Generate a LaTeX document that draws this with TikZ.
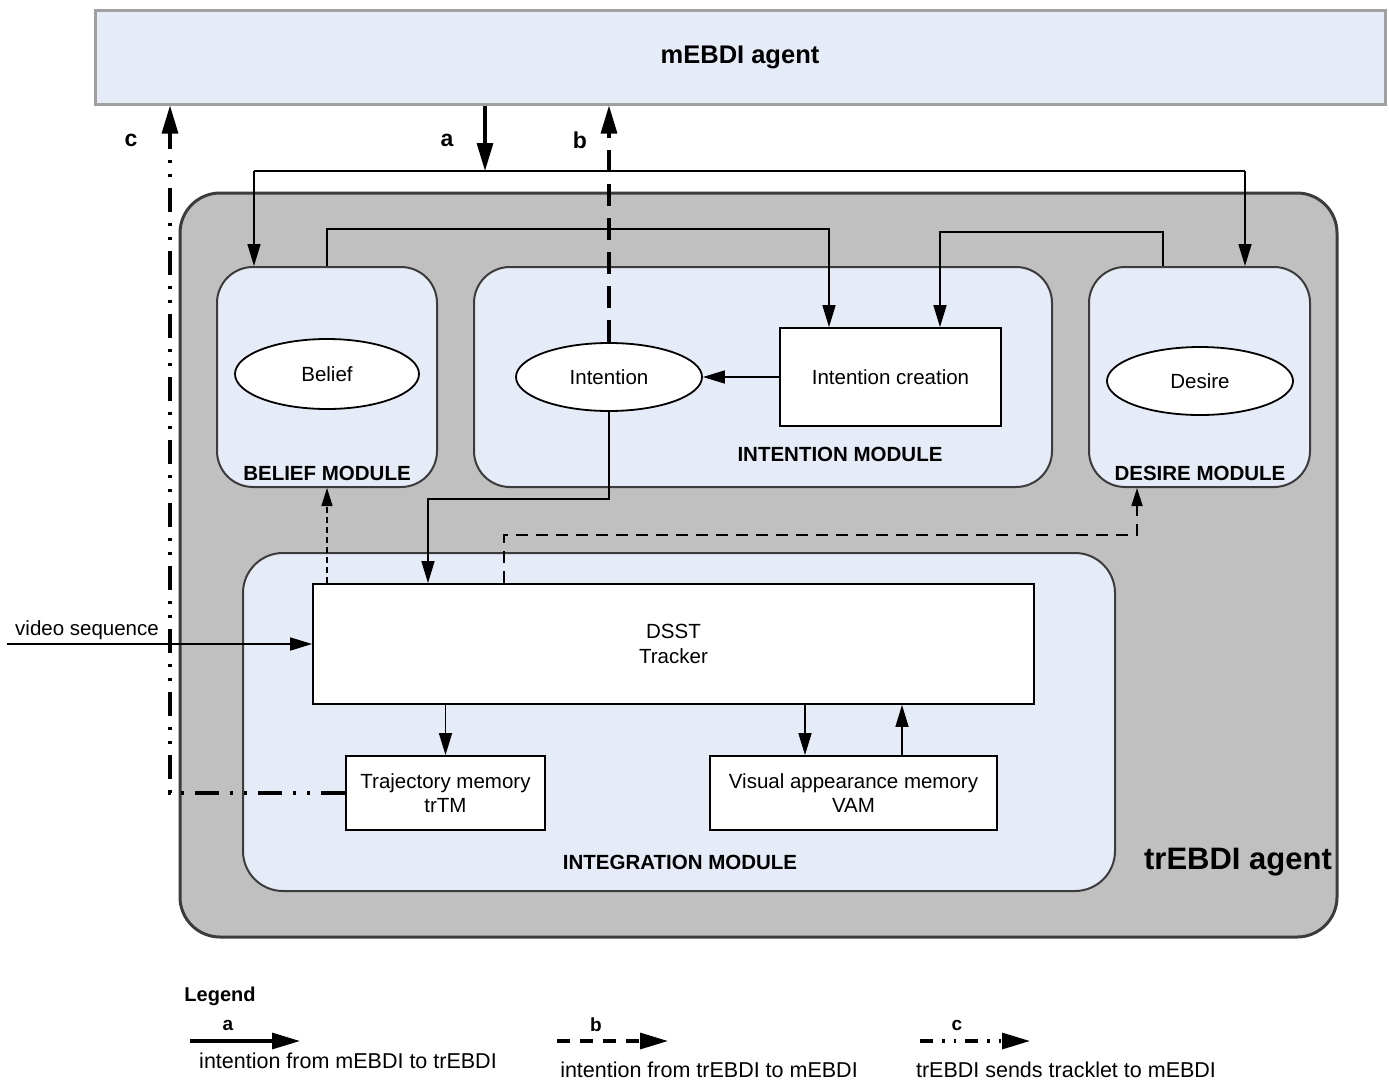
\documentclass[tikz,border=0pt]{standalone}
\usepackage{fontspec}
\setmainfont{Liberation Sans}
\usetikzlibrary{arrows.meta,shapes.geometric,calc}
\definecolor{lb}{HTML}{E6ECF7}
\definecolor{gr}{HTML}{C0C0C0}
\definecolor{modline}{HTML}{3C3C3C}
\definecolor{topline}{HTML}{A0A0A0}
\newcommand\myfs{\fontsize{20.5}{24.5}\selectfont}
\begin{document}
\begin{tikzpicture}[x=1pt,y=-1pt,
  modbox/.style={draw=modline,line width=2pt,fill=lb,rounded corners=36pt,inner sep=0},
  wbox/.style={draw=black,line width=1.8pt,fill=white,align=center,font=\myfs,inner sep=0},
  ell/.style={ellipse,draw=black,line width=1.8pt,fill=white,font=\myfs,inner sep=0},
  modlab/.style={font=\bfseries\myfs,inner sep=0},
  txt/.style={font=\myfs,inner sep=0},
  biglab/.style={font=\bfseries\fontsize{23}{27}\selectfont,inner sep=0},
  conn/.style={line width=1.6pt,draw=black},
  tip/.style={-{Triangle[length=22pt,width=13pt]}},
  smalltip/.style={-{Triangle[length=18pt,width=11pt]}},
  bigtip/.style={-{Triangle[length=28pt,width=16pt]}},
  aline/.style={line width=3.2pt,draw=black,bigtip},
  bline/.style={line width=3.2pt,draw=black,dash pattern=on 22pt off 12pt,bigtip},
  cline/.style={line width=3.2pt,draw=black,dash pattern=on 24pt off 11pt on 3pt off 11pt on 3pt off 11pt,bigtip},
  legtxt/.style={font=\fontsize{21.5}{25}\selectfont,inner sep=0}
]
\useasboundingbox (0,0) rectangle (1389,1082);

% outer agents
\node[draw=topline,line width=3pt,fill=lb,minimum width=1290pt,minimum height=94pt,inner sep=0] (mebdi) at (740,57) {};
\node[font=\bfseries\fontsize{25.5}{30}\selectfont,inner sep=0] (mlab) at (740,57) {mEBDI agent};
\node[draw=modline,line width=3pt,fill=gr,rounded corners=40pt,minimum width=1157pt,minimum height=744pt,inner sep=0] (trebdi) at (758.5,565) {};
\node[font=\bfseries\fontsize{31}{36}\selectfont,inner sep=0] (trlab) at (1238,862) {trEBDI agent};

% modules
\node[modbox,minimum width=220pt,minimum height=220pt] (bm) at (327,377) {};
\node[modbox,minimum width=578pt,minimum height=220pt] (im) at (763,377) {};
\node[modbox,minimum width=221pt,minimum height=220pt] (dm) at (1199.5,377) {};
\node[modbox,rounded corners=40pt,minimum width=872pt,minimum height=338pt] (ig) at (679,722) {};

\node[modlab] (bmlab) at (327,473) {BELIEF MODULE};
\node[modlab] (imlab) at (840,454) {INTENTION MODULE};
\node[modlab] (dmlab) at (1200,473) {DESIRE MODULE};
\node[modlab] (iglab) at (680,862) {INTEGRATION MODULE};

% inner elements
\node[ell,minimum width=184pt,minimum height=70pt] (bel) at (327,374) {Belief};
\node[ell,minimum width=186pt,minimum height=68pt] (int) at (609,377) {Intention};
\node[ell,minimum width=186pt,minimum height=68pt] (des) at (1200,381) {Desire};
\node[wbox,minimum width=221pt,minimum height=98pt] (ic) at (890.5,377) {Intention creation};
\node[wbox,minimum width=721pt,minimum height=120pt] (dsst) at (673.5,644) {DSST\\Tracker};
\node[wbox,minimum width=199pt,minimum height=74pt] (trtm) at (445.5,793) {Trajectory memory\\trTM};
\node[wbox,minimum width=287pt,minimum height=74pt] (vam) at (853.5,793) {Visual appearance memory\\VAM};

% connector a
\coordinate (aj) at (485,171);
\coordinate (al) at (254,171);
\coordinate (ar) at (1245,171);
\draw[aline] (mebdi.south -| aj) -- (aj);
\draw[conn] (al) -- (ar);
\draw[conn,tip] (al) -- (al |- bm.north);
\draw[conn,tip] (ar) -- (ar |- dm.north);

% connector b
\draw[bline] (int.north) -- (int.north |- mebdi.south);

% module links
\draw[conn,tip] (bm.north) -- ++(0,-37) -| ([xshift=-61.5]ic.north);
\draw[conn,tip] ([xshift=-36.5]dm.north) -- ++(0,-34) -| ([xshift=49.5]ic.north);
\draw[conn,tip] (ic.west) -- (int.east);
\draw[conn,tip] (int.south) -- ++(0,87) -| ([xshift=-245.5]dsst.north);
\draw[line width=1.1pt,dash pattern=on 6pt off 4pt,smalltip] (dsst.north -| bm.south) -- (bm.south);
\draw[line width=1.8pt,dash pattern=on 12pt off 8pt,smalltip] ([xshift=-169.5]dsst.north) -- ++(0,-48) -| ([xshift=-62.5]dm.south);

% video sequence
\coordinate (vs) at (7,644);
\draw[conn,tip] (vs) -- (dsst.west);
\node[txt,anchor=south west] (vslab) at (15,640) {video sequence};

% integration links
\draw[conn,tip] (dsst.south -| trtm.north) -- (trtm.north);
\coordinate (v1) at ([xshift=-48.5]vam.north);
\coordinate (v2) at ([xshift=48.5]vam.north);
\draw[conn,tip] (dsst.south -| v1) -- (v1);
\draw[conn,tip] (v2) -- (dsst.south -| v2);

% connector c
\coordinate (cx) at (170,140);
\draw[cline] (trtm.west) -| (cx |- mebdi.south);

% labels a b c
\node[biglab] (la) at (447,140) {a};
\node[biglab] (lb) at (580,140) {b};
\node[biglab] (lc) at (131,140) {c};

% legend
\node[font=\bfseries\fontsize{20}{24}\selectfont,inner sep=0] (leg) at (220,996) {Legend};
\coordinate (l1a) at (190,1041); \coordinate (l1b) at (300,1041);
\coordinate (l2a) at (557,1041); \coordinate (l2b) at (668,1041);
\coordinate (l3a) at (920,1041); \coordinate (l3b) at (1030,1041);
\draw[aline] (l1a) -- (l1b);
\draw[line width=3.2pt,dash pattern=on 13pt off 10pt,bigtip] (l2a) -- (l2b);
\draw[line width=3.2pt,dash pattern=on 13pt off 9pt on 2.5pt off 9pt on 2.5pt off 9pt,bigtip] (l3a) -- (l3b);
\node[font=\bfseries\fontsize{19}{23}\selectfont,inner sep=0] (lga) at (228,1025) {a};
\node[font=\bfseries\fontsize{19}{23}\selectfont,inner sep=0] (lgb) at (596,1025) {b};
\node[font=\bfseries\fontsize{19}{23}\selectfont,inner sep=0] (lgc) at (957,1025) {c};
\node[legtxt] (lt1) at (348,1061) {intention from mEBDI to trEBDI};
\node[legtxt] (lt2) at (709,1070) {intention from trEBDI to mEBDI};
\node[legtxt] (lt3) at (1066,1070) {trEBDI sends tracklet to mEBDI};
\end{tikzpicture}
\end{document}
